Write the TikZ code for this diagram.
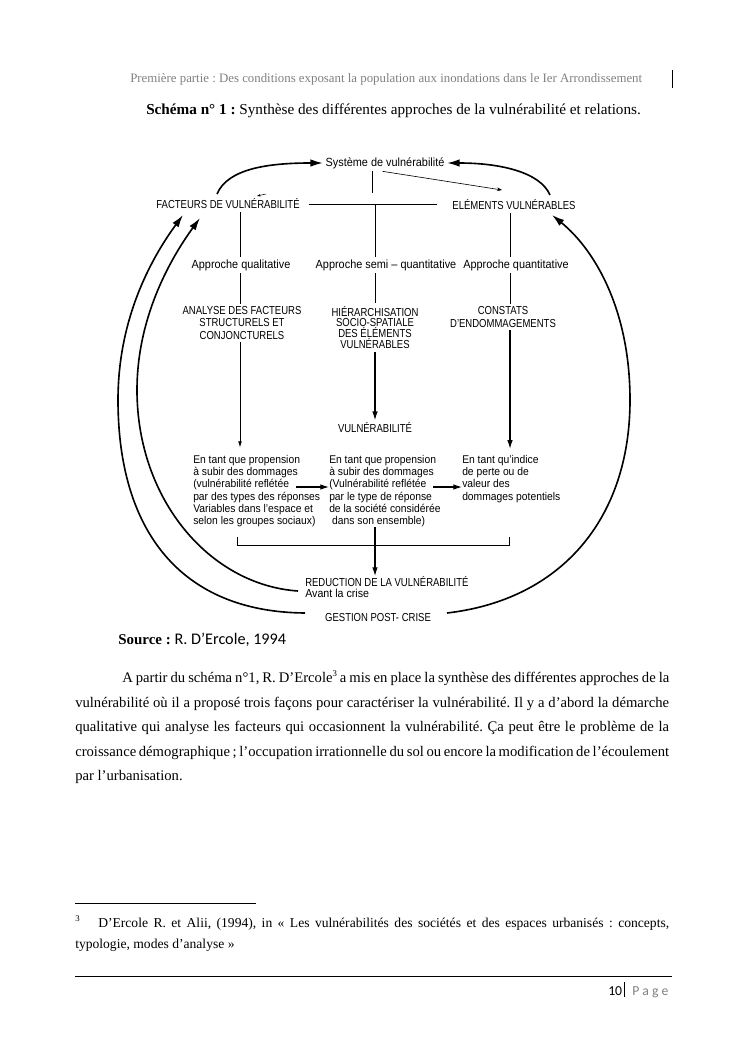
\documentclass[tikz,border=0pt]{standalone}
\usepackage{fontspec}
\setmainfont{Liberation Serif}
\newfontfamily\schemafont[FakeStretch=0.92]{Liberation Sans}
\newfontfamily\capsfont[FakeStretch=0.82]{Liberation Sans}
\newfontfamily\pagefont{Carlito}
\usetikzlibrary{arrows.meta, calc}
\definecolor{headgray}{gray}{0.5}
\frenchspacing

\begin{document}
\begin{tikzpicture}[x=0.028188cm, y=-0.028188cm,
  lbl/.style={font=\schemafont\fontsize{9.5}{11}\selectfont, inner sep=2pt},
  caps/.style={font=\capsfont\fontsize{9.3}{10}\selectfont, inner sep=2pt},
  capsblk/.style={caps, align=center},
  blk/.style={font=\schemafont\fontsize{9}{9.8}\selectfont, align=left, anchor=north west, inner sep=0pt},
  link/.style={line width=0.7pt},
  flow/.style={-{Latex[length=7pt,width=4.5pt]}, line width=0.9pt},
  loop/.style={-{Latex[length=10pt,width=6pt]}, line width=1.3pt},
  body/.style={anchor=base west, inner sep=0pt, font=\fontsize{11.75}{14}\selectfont}]
  \useasboundingbox (0,0) rectangle (745,1053);

  % Page head
  \node[anchor=west, inner sep=0pt, text=headgray, font=\fontsize{10.3}{12}\selectfont] (head) at (130,79)
    {Première partie : Des conditions exposant la population aux inondations dans le Ier Arrondissement};
  \draw[line width=0.6pt] (672,70) -- (672,88);
  \node[anchor=west, inner sep=0pt, font=\fontsize{12.2}{14}\selectfont] (title) at (146,111)
    {\textbf{Schéma n° 1 :} Synthèse des différentes approches de la vulnérabilité et relations.};

  % Labels of the scheme
  \node[lbl] (sys) at (385,163) {Système de vulnérabilité};
  \node[caps] (fact) at (228,204) {FACTEURS DE VULNÉRABILITÉ};
  \node[caps] (elem) at (514,205) {ELÉMENTS VULNÉRABLES};
  \node[lbl] (qual) at (241,265) {Approche qualitative};
  \node[lbl] (semi) at (386,265) {Approche semi – quantitative};
  \node[lbl] (quant) at (516,265) {Approche quantitative};
  \node[capsblk] (anal) at (242,323) {ANALYSE DES FACTEURS\\STRUCTURELS ET\\CONJONCTURELS};
  \node[capsblk, font=\capsfont\fontsize{9.3}{8.8}\selectfont] (hier) at (375,327.5)
    {HIÉRARCHISATION\\SOCIO-SPATIALE\\DES ÉLÉMENTS\\VULNÉRABLES};
  \node[capsblk] (const) at (503,317) {CONSTATS\\D’ENDOMMAGEMENTS};
  \node[caps] (vul) at (375,428) {VULNÉRABILITÉ};
  \node[blk] (prop1) at (193,455) {En tant que propension\\à subir des dommages\\(vulnérabilité reflétée\\par des types des réponses\\Variables dans l’espace et\\selon les groupes sociaux)};
  \node[blk] (prop2) at (329,455) {En tant que propension\\à subir des dommages\\(Vulnérabilité reflétée\\par le type de réponse\\de la société considérée\\\ dans son ensemble)};
  \node[blk] (ind) at (462,455) {En tant qu’indice\\de perte ou de\\valeur des\\dommages potentiels};
  \node[blk, font=\capsfont\fontsize{9.3}{8.8}\selectfont] (red) at (305,576)
    {REDUCTION DE LA VULNÉRABILITÉ\\{\schemafont Avant la crise}};
  \node[caps] (gest) at (378,618) {GESTION POST- CRISE};

  % Columns
  \coordinate (colL) at (240,0);
  \coordinate (colM) at (375,0);
  \coordinate (colR) at (510,0);

  % Tree under the system
  \coordinate (sysfoot) at (372,193);
  \draw[link] (sys.south -| sysfoot) -- (sysfoot);
  \coordinate (tipE) at (502,190);
  \draw[-{Stealth[length=4pt,width=3pt]}, line width=0.5pt] ([xshift=-2pt]sys.south) -- (tipE);
  \draw[link] ([xshift=5pt]fact.east) -- ([xshift=-10pt]fact.east -| elem.west);
  \draw[link] (colM |- fact.east) -- (semi.north -| colM);
  \draw[link] (colL |- fact.south) -- (qual.north -| colL);
  \draw[link] (colR |- elem.south) -- (quant.north -| colR);
  \draw[link] (qual.south -| colL) -- (anal.north -| colL);
  \draw[link] (semi.south -| colM) -- (hier.north -| colM);
  \draw[link] (quant.south -| colR) -- (const.north -| colR);
  \coordinate (stray) at (266,194);
  \draw[-{Stealth[length=3pt,width=2pt]}, line width=0.4pt] (stray) -- ++(-9,2);

  % Down to the ways of reading vulnerability
  \draw[-{Latex[length=5pt,width=3pt]}, line width=0.6pt, shorten >=6pt] (anal.south -| colL) -- (prop1.north -| colL);
  \draw[flow] (hier.south -| colM) -- (vul.north);
  \draw[flow, shorten >=5pt] (const.south -| colR) -- (ind.north -| colR);
  \coordinate (p1end) at (296,487);
  \coordinate (p2end) at (433,487);
  \draw[flow] (p1end) -- (prop2.west |- p1end);
  \draw[flow] (p2end) -- (ind.west |- p2end);

  % Bracket and reduction
  \coordinate (brL) at (237,537);
  \coordinate (brR) at (509,537);
  \draw[link] (brL) -- ++(0,8) -| (brR);
  \draw[flow] (prop2.south -| colM) -- (red.north -| colM);

  % Loops back to the top
  \coordinate (outA) at (305,613);
  \coordinate (outB) at (183,215);
  \coordinate (inA) at (298,591);
  \coordinate (inB) at (200,218);
  \coordinate (rgA) at (447,613);
  \coordinate (rgB) at (552,215);
  \coordinate (tlA) at (217,194);
  \coordinate (trA) at (550,195);
  \draw[loop] (outA) .. controls (180,612) and (118,530) .. (118,400)
    .. controls (118,320) and (150,260) .. (outB);
  \draw[loop] (inA) .. controls (210,585) and (137,500) .. (137,390)
    .. controls (137,320) and (168,262) .. (inB);
  \draw[loop] (rgA) .. controls (560,600) and (630,520) .. (630,400)
    .. controls (630,310) and (595,250) .. (rgB);
  \draw[loop] (tlA) .. controls (228,168) and (270,163) .. (sys.west);
  \draw[loop] (trA) .. controls (540,172) and (500,163) .. (sys.east);

  % Source
  \node[anchor=west, inner sep=0pt, font=\fontsize{12}{14}\selectfont] (src) at (118,640)
    {\textbf{Source :} {\pagefont\fontsize{13}{15}\selectfont R. D’Ercole, 1994}};

  % Text of the page
  \node[body] (l1) at (122,682) {\makebox[438.7pt][s]{A partir du schéma n°1, R. D’Ercole\raisebox{4.5pt}{\fontsize{7}{8}\selectfont 3} a mis en place la synthèse des différentes approches de la}};
  \node[body] (l2) at (75,707) {\makebox[476.2pt][s]{vulnérabilité où il a proposé trois façons pour caractériser la vulnérabilité. Il y a d’abord la démarche}};
  \node[body] (l3) at (75,731) {\makebox[476.2pt][s]{qualitative qui analyse les facteurs qui occasionnent la vulnérabilité. Ça peut être le problème de la}};
  \node[body] (l4) at (75,756) {\makebox[476.2pt][s]{croissance démographique ; l’occupation irrationnelle du sol ou encore la modification de l’écoulement}};
  \node[body] (l5) at (75,780) {par l’urbanisation.};

  % Footnote
  \draw[line width=0.6pt] (75,903) -- (256,903);
  \node[anchor=base west, inner sep=0pt, font=\fontsize{7}{8}\selectfont] (fnum) at (75,921) {3};
  \node[anchor=base west, inner sep=0pt, font=\fontsize{10.9}{12}\selectfont] (f1) at (98,927)
    {\makebox[457.8pt][s]{D’Ercole R. et Alii, (1994), in « Les vulnérabilités des sociétés et des espaces urbanisés : concepts,}};
  \node[anchor=base west, inner sep=0pt, font=\fontsize{10.9}{12}\selectfont] (f2) at (75,948) {typologie, modes d’analyse »};

  % Foot of page
  \draw[line width=0.6pt] (75,976) -- (672,976);
  \node[anchor=base west, inner sep=0pt, font=\pagefont\fontsize{11}{13}\selectfont] (pnum) at (608,995) {10};
  \draw[line width=0.5pt] (624,982) -- (624,997);
  \node[anchor=base west, inner sep=0pt, text=headgray, font=\pagefont\fontsize{11}{13}\selectfont] (pword) at (632,995) {P a g e};
\end{tikzpicture}
\end{document}
